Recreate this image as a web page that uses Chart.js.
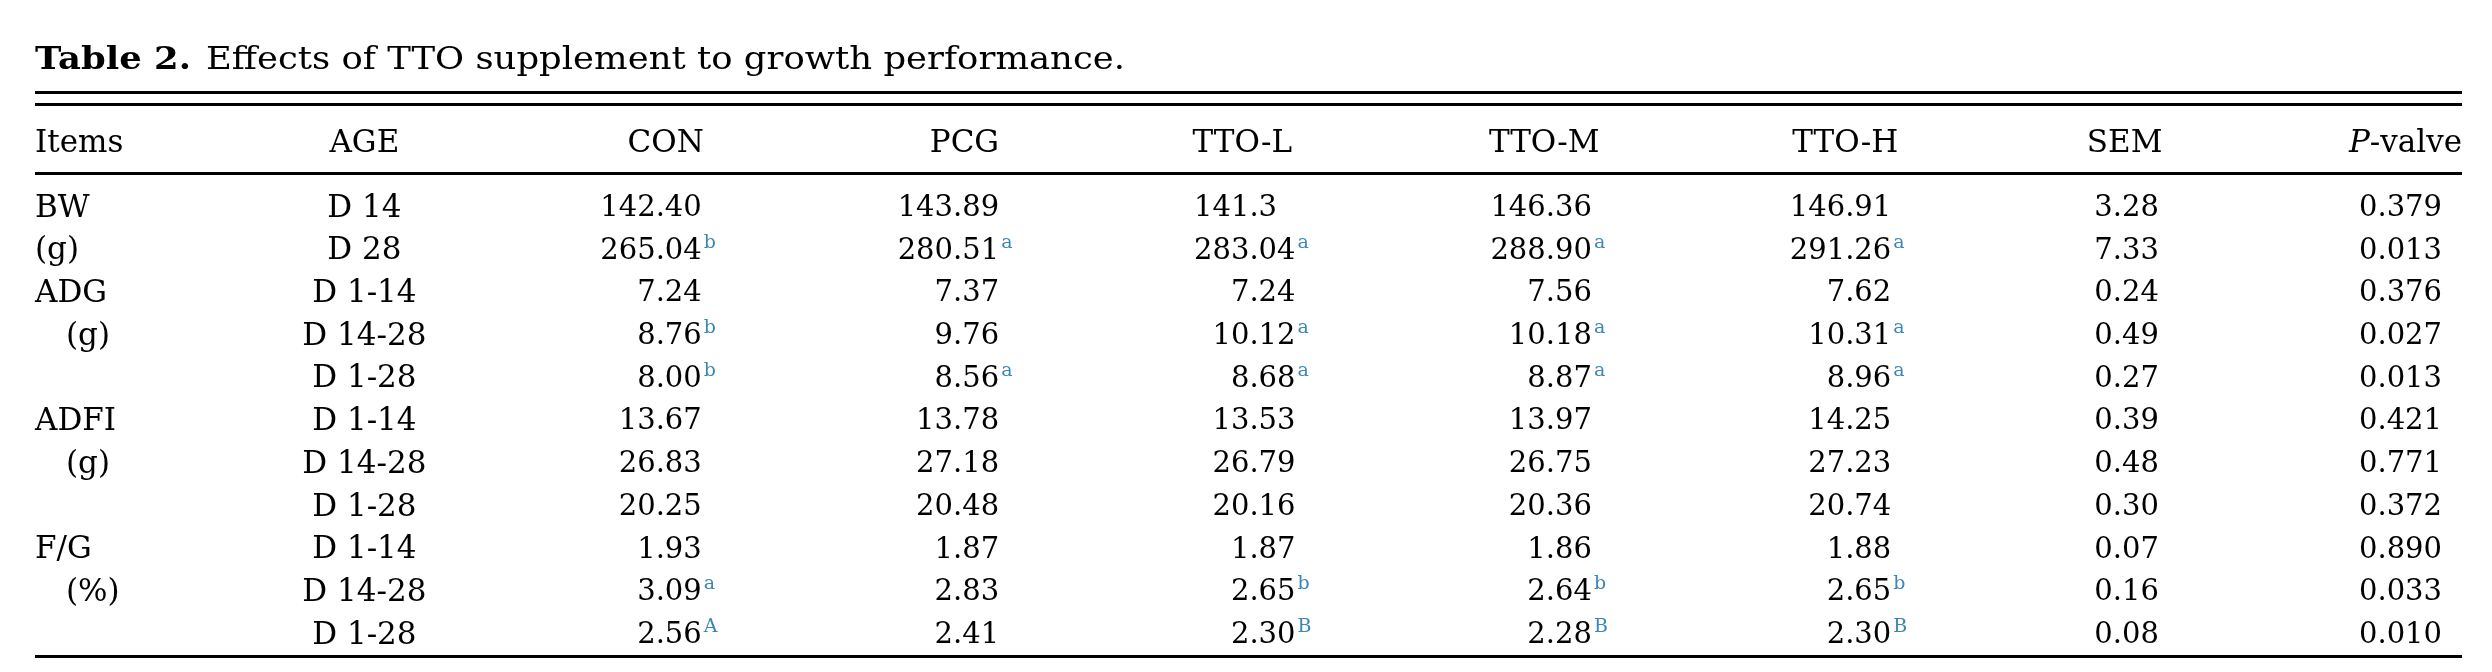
<!DOCTYPE html>
<html lang="en">
<head>
  <meta charset="UTF-8">
  <title>Table 2. Effects of TTO supplement to growth performance</title>
  <script src="https://cdn.jsdelivr.net/npm/chart.js"></script>
  <style>
    html, body { margin: 0; background: #fff; }
    #wrap { width: 2492px; height: 672px; position: relative; }
  </style>
</head>
<body>
<div id="wrap"><canvas id="table"></canvas></div>

<script>
  const titleBold = "Table 2.";
  const titleText = "Effects of TTO supplement to growth performance.";
  const columns = ["Items", "AGE", "CON", "PCG", "TTO-L", "TTO-M", "TTO-H", "SEM", "P-valve"];

  const items = ["BW", "(g)", "ADG", "\u2003(g)", "", "ADFI", "\u2003(g)", "", "F/G", "\u2003(%)", ""];
  const ages = ["D 14", "D 28", "D 1-14", "D 14-28", "D 1-28", "D 1-14", "D 14-28", "D 1-28", "D 1-14", "D 14-28", "D 1-28"];

  const con = ["142.40", "265.04", "7.24", "8.76", "8.00", "13.67", "26.83", "20.25", "1.93", "3.09", "2.56"];
  const conSup = ["", "b", "", "b", "b", "", "", "", "", "a", "A"];
  const pcg = ["143.89", "280.51", "7.37", "9.76", "8.56", "13.78", "27.18", "20.48", "1.87", "2.83", "2.41"];
  const pcgSup = ["", "a", "", "", "a", "", "", "", "", "", ""];
  const ttoL = ["141.3", "283.04", "7.24", "10.12", "8.68", "13.53", "26.79", "20.16", "1.87", "2.65", "2.30"];
  const ttoLSup = ["", "a", "", "a", "a", "", "", "", "", "b", "B"];
  const ttoM = ["146.36", "288.90", "7.56", "10.18", "8.87", "13.97", "26.75", "20.36", "1.86", "2.64", "2.28"];
  const ttoMSup = ["", "a", "", "a", "a", "", "", "", "", "b", "B"];
  const ttoH = ["146.91", "291.26", "7.62", "10.31", "8.96", "14.25", "27.23", "20.74", "1.88", "2.65", "2.30"];
  const ttoHSup = ["", "a", "", "a", "a", "", "", "", "", "b", "B"];
  const sem = ["3.28", "7.33", "0.24", "0.49", "0.27", "0.39", "0.48", "0.30", "0.07", "0.16", "0.08"];
  const pValue = ["0.379", "0.013", "0.376", "0.027", "0.013", "0.421", "0.771", "0.372", "0.890", "0.033", "0.010"];

  const cellCols = [items, ages, con, pcg, ttoL, ttoM, ttoH, sem, pValue];
  const supCols = [null, null, conSup, pcgSup, ttoLSup, ttoMSup, ttoHSup, null, null];

  // placement of each column around its x tick: body align + nudge, header align + nudge
  // "dec" = decimal aligned, dx is the right edge of a 2-decimal number
  const colLayout = [
    { align: "left",   dx: 0,   head: "left",   hdx: 0 },
    { align: "center", dx: 26,  head: "center", hdx: 26 },
    { align: "dec",    dx: 60,  head: "right",  hdx: 62 },
    { align: "dec",    dx: 54,  head: "right",  hdx: 54 },
    { align: "dec",    dx: 47,  head: "left",   hdx: -56 },
    { align: "dec",    dx: 40,  head: "left",   hdx: -63 },
    { align: "dec",    dx: 36,  head: "left",   hdx: -63 },
    { align: "center", dx: -32, head: "center", hdx: -34 },
    { align: "right",  dx: -20, head: "right",  hdx: 0 }
  ];

  const FONT = "'DejaVu Serif', serif";
  const NUM = 29;      // numbers
  const WORD = 31;     // words: headers, items, ages
  const TITLE = 31;
  const TITLE_W = 1090; // width the caption runs over
  const SUP_SIZE = 19;
  const SUP_COLOR = "#3a86b8";
  const rules = [-2.66, -2.37, -0.76, 10.54];

  const tablePlugin = {
    id: "tableText",
    afterDatasetsDraw(chart) {
      const ctx = chart.ctx;
      const xs = chart.scales.x, ys = chart.scales.y;
      const area = chart.chartArea;
      ctx.save();
      ctx.fillStyle = "#000";
      ctx.textBaseline = "alphabetic";

      // caption, widened a little to the caption width (Century is wider than DejaVu)
      const ty = ys.getPixelForValue(-3.45) + TITLE * 0.36;
      const gap = 13;
      ctx.textAlign = "left";
      ctx.font = "bold " + TITLE + "px " + FONT;
      const bw = ctx.measureText(titleBold).width;
      ctx.font = TITLE + "px " + FONT;
      const tw = ctx.measureText(titleText).width;
      const sx = Math.max(1, TITLE_W / (bw + gap + tw));
      ctx.save();
      ctx.translate(area.left, ty);
      ctx.scale(sx, 1);
      ctx.font = "bold " + TITLE + "px " + FONT;
      ctx.fillText(titleBold, 0, 0);
      ctx.font = TITLE + "px " + FONT;
      ctx.fillText(titleText, bw + gap, 0);
      ctx.restore();

      // rules
      ctx.strokeStyle = "#000";
      ctx.lineWidth = 3;
      rules.forEach(v => {
        const y = Math.round(ys.getPixelForValue(v)) + 0.5;
        ctx.beginPath();
        ctx.moveTo(area.left, y);
        ctx.lineTo(area.right, y);
        ctx.stroke();
      });

      // header row
      const hy = ys.getPixelForValue(-1.5) + WORD * 0.36;
      columns.forEach((name, c) => {
        const lay = colLayout[c];
        const x = xs.getPixelForValue(c) + lay.hdx;
        ctx.font = WORD + "px " + FONT;
        if (name === "P-valve") {
          ctx.font = "italic " + WORD + "px " + FONT;
          const pw = ctx.measureText("P").width;
          ctx.font = WORD + "px " + FONT;
          const rw = ctx.measureText("-valve").width;
          ctx.textAlign = "left";
          ctx.font = "italic " + WORD + "px " + FONT;
          ctx.fillText("P", x - pw - rw, hy);
          ctx.font = WORD + "px " + FONT;
          ctx.fillText("-valve", x - rw, hy);
          return;
        }
        ctx.textAlign = lay.head;
        ctx.fillText(name, x, hy);
      });

      // body cells, placed on the dataset points
      chart.data.datasets.forEach((ds, c) => {
        const meta = chart.getDatasetMeta(c);
        const lay = colLayout[c];
        const sups = supCols[c];
        const size = c < 2 ? WORD : NUM;
        meta.data.forEach((pt, r) => {
          const txt = cellCols[c][r];
          if (!txt) return;
          const x = pt.x + lay.dx;
          const y = pt.y + size * 0.36;
          ctx.font = size + "px " + FONT;
          ctx.fillStyle = "#000";
          let right;
          if (lay.align === "dec") {
            const frac = txt.split(".")[1] || "";
            const shift = ctx.measureText(".00").width - ctx.measureText("." + frac).width;
            right = x - shift;
            ctx.textAlign = "right";
            ctx.fillText(txt, right, y);
          } else {
            ctx.textAlign = lay.align;
            ctx.fillText(txt, x, y);
            const w = ctx.measureText(txt).width;
            right = lay.align === "left" ? x + w : lay.align === "center" ? x + w / 2 : x;
          }
          if (sups && sups[r]) {
            ctx.font = SUP_SIZE + "px " + FONT;
            ctx.fillStyle = SUP_COLOR;
            ctx.textAlign = "left";
            ctx.fillText(sups[r], right + 2, y - 11);
          }
        });
      });
      ctx.restore();
    }
  };

  const datasets = columns.map((name, c) => ({
    label: name,
    data: cellCols[c].map((_, r) => ({ x: c, y: r })),
    pointRadius: 0,
    showLine: false
  }));

  new Chart(document.getElementById("table"), {
    type: "scatter",
    data: { datasets },
    options: {
      responsive: true,
      maintainAspectRatio: false,
      animation: false,
      layout: { padding: { top: 184, bottom: 18, left: 35, right: 30 } },
      plugins: { legend: { display: false }, tooltip: { enabled: false }, title: { display: false } },
      scales: {
        x: { type: "linear", display: false, min: 0, max: columns.length - 1 },
        y: { type: "linear", display: false, reverse: true, min: -0.5, max: items.length - 0.5 }
      }
    },
    plugins: [tablePlugin]
  });
</script>
</body>
</html>
